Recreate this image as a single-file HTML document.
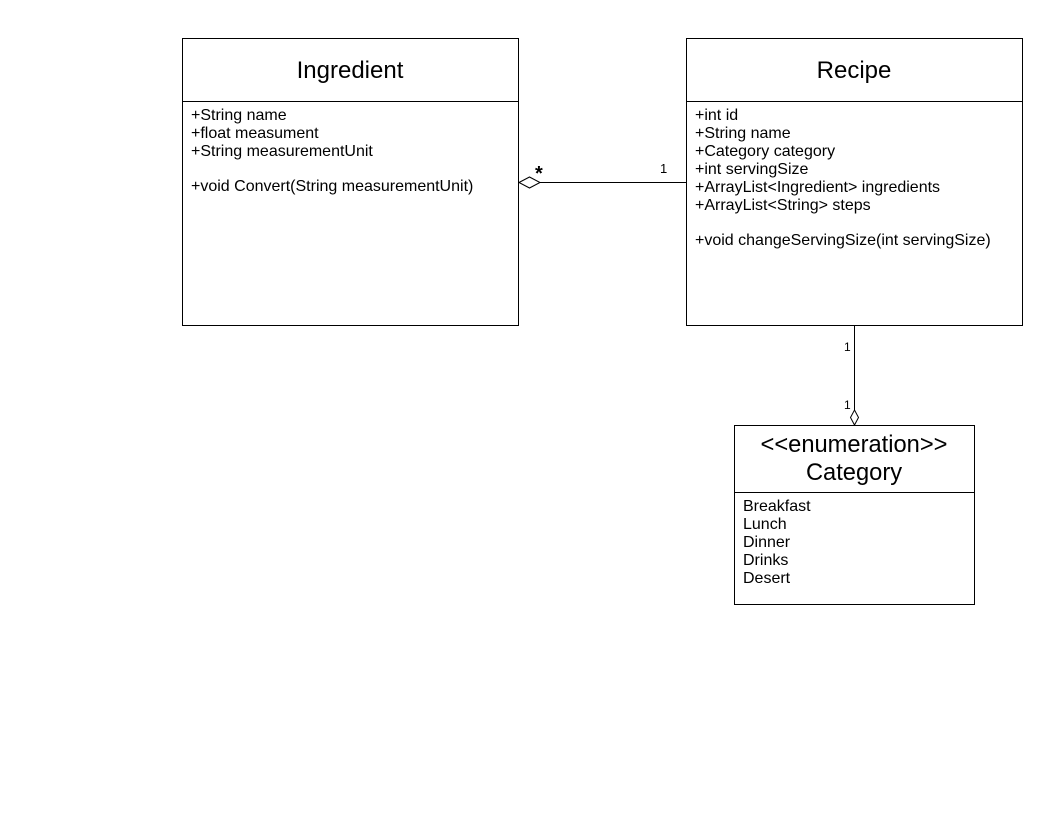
<!DOCTYPE html>
<html><head><style>
body{margin:0;background:#fff;width:1056px;height:816px;overflow:hidden}
svg text{font-family:"Liberation Sans",sans-serif;fill:#000}
</style></head><body>
<svg width="1056" height="816" xmlns="http://www.w3.org/2000/svg">
<g fill="none" stroke="#000" stroke-width="1">
<rect x="182.5" y="38.5" width="336" height="287"/>
<line x1="182.5" y1="101.5" x2="518.5" y2="101.5"/>
<rect x="686.5" y="38.5" width="336" height="287"/>
<line x1="686.5" y1="101.5" x2="1022.5" y2="101.5"/>
<rect x="734.5" y="425.5" width="240" height="179"/>
<line x1="734.5" y1="492.5" x2="974.5" y2="492.5"/>
<line x1="540" y1="182.5" x2="686" y2="182.5"/>
<polygon points="519,182.5 529.5,177 540,182.5 529.5,188" fill="#fff"/>
<line x1="854.5" y1="326" x2="854.5" y2="410"/>
<polygon points="854.5,410 858.5,417.5 854.5,425 850.5,417.5" fill="#fff"/>
</g>
<text x="350" y="78" font-size="24" text-anchor="middle">Ingredient</text>
<text x="854" y="78" font-size="24" text-anchor="middle">Recipe</text>
<text x="854" y="452" font-size="23.7" text-anchor="middle">&lt;&lt;enumeration&gt;&gt;</text>
<text x="854" y="480" font-size="23.7" text-anchor="middle">Category</text>
<g font-size="16">
<text x="191" y="120">+String name</text>
<text x="191" y="138">+float measument</text>
<text x="191" y="156">+String measurementUnit</text>
<text x="191" y="191">+void Convert(String measurementUnit)</text>
<text x="695" y="120">+int id</text>
<text x="695" y="138">+String name</text>
<text x="695" y="156">+Category category</text>
<text x="695" y="174">+int servingSize</text>
<text x="695" y="192">+ArrayList&lt;Ingredient&gt; ingredients</text>
<text x="695" y="210">+ArrayList&lt;String&gt; steps</text>
<text x="695" y="245">+void changeServingSize(int servingSize)</text>
<text x="743" y="511">Breakfast</text>
<text x="743" y="529">Lunch</text>
<text x="743" y="547">Dinner</text>
<text x="743" y="565">Drinks</text>
<text x="743" y="583">Desert</text>
</g>
<text x="535" y="180" font-size="20" font-weight="bold">*</text>
<text x="660" y="173" font-size="13">1</text>
<text x="844" y="351" font-size="12">1</text>
<text x="844" y="409" font-size="12">1</text>
</svg>
</body></html>
